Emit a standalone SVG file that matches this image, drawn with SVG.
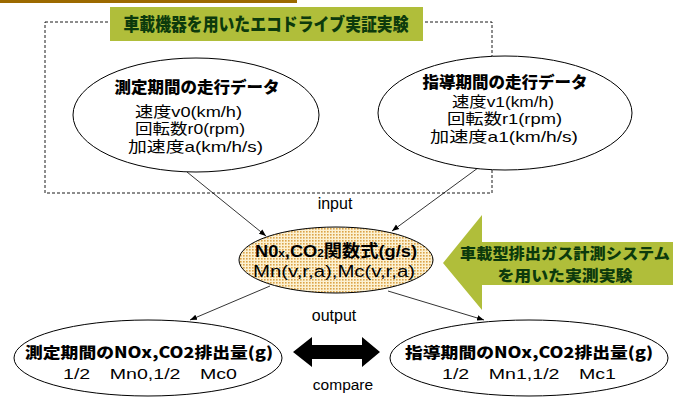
<svg xmlns="http://www.w3.org/2000/svg" width="686" height="397" viewBox="0 0 686 397">
<defs>
<style>
.jp{font-family:"Noto Sans CJK JP","Liberation Sans",sans-serif;}
.lat{font-family:"Liberation Sans","Noto Sans CJK JP",sans-serif;}
.b{font-weight:900;}
.ell{fill:#fff;stroke:#000;stroke-width:1;}
.con{stroke:#000;stroke-width:0.8;fill:none;}
.green{fill:#b0be3a;}
.gtxt{fill:#0c3a0c;font-weight:900;}
</style>
<pattern id="dots" width="3" height="3" patternUnits="userSpaceOnUse">
<rect width="3" height="3" fill="#fcf1d2"/>
<rect width="1.6" height="1.6" fill="#dca448"/>
</pattern>
<marker id="ah" viewBox="0 0 10 10" refX="10" refY="5" markerWidth="7" markerHeight="7" orient="auto" markerUnits="userSpaceOnUse">
<path d="M0,1 L10,5 L0,9 z" fill="#000"/>
</marker>
</defs>
<rect x="0" y="0" width="297" height="3" fill="#9c6a00"/>
<rect id="frame" x="45" y="22" width="447" height="171" fill="none" stroke="#000" stroke-width="0.9" stroke-dasharray="3,2"/>
<g id="title">
<rect x="110" y="7" width="313" height="34" class="green"/>
<text x="266" y="31" text-anchor="middle" class="jp gtxt" font-size="18" textLength="285" lengthAdjust="spacingAndGlyphs">車載機器を用いたエコドライブ実証実験</text>
</g>
<g id="connectors">
<line x1="187" y1="172" x2="266" y2="236" class="con" marker-end="url(#ah)"/>
<line x1="482" y1="165" x2="392" y2="231" class="con" marker-end="url(#ah)"/>
<line x1="270" y1="286" x2="190" y2="320" class="con" marker-end="url(#ah)"/>
<line x1="388" y1="291" x2="484" y2="320" class="con" marker-end="url(#ah)"/>
<polygon id="compare-arrow" points="293,352 312,337 312,345 362,345 362,337 380,352 362,367 362,359 312,359 312,367" fill="#000"/>
</g>
<text x="335" y="209" text-anchor="middle" class="lat" font-size="16">input</text>
<text x="334" y="321" text-anchor="middle" class="lat" font-size="16">output</text>
<text x="343" y="390" text-anchor="middle" class="lat" font-size="15.5">compare</text>
<g id="measure-data">
<ellipse cx="196" cy="115" rx="123" ry="57" class="ell"/>
<text x="197" y="93" text-anchor="middle" class="jp b" font-size="16" textLength="165" lengthAdjust="spacingAndGlyphs">測定期間の走行データ</text>
<text x="135" y="117" class="lat" font-size="15" textLength="107" lengthAdjust="spacingAndGlyphs">速度v0(km/h)</text>
<text x="135" y="134" class="lat" font-size="15" textLength="110" lengthAdjust="spacingAndGlyphs">回転数r0(rpm)</text>
<text x="128" y="152" class="lat" font-size="15" textLength="135" lengthAdjust="spacingAndGlyphs">加速度a(km/h/s)</text>
</g>
<g id="guide-data">
<ellipse cx="505" cy="113" rx="127" ry="57" class="ell"/>
<text x="505" y="88" text-anchor="middle" class="jp b" font-size="16" textLength="165" lengthAdjust="spacingAndGlyphs">指導期間の走行データ</text>
<text x="452" y="107" class="lat" font-size="15" textLength="102" lengthAdjust="spacingAndGlyphs">速度v1(km/h)</text>
<text x="447" y="124" class="lat" font-size="15" textLength="115" lengthAdjust="spacingAndGlyphs">回転数r1(rpm)</text>
<text x="430" y="142" class="lat" font-size="15" textLength="148" lengthAdjust="spacingAndGlyphs">加速度a1(km/h/s)</text>
</g>
<g id="function">
<ellipse cx="336" cy="260" rx="97" ry="33" fill="url(#dots)" stroke="#000" stroke-width="1"/>
<text x="255" y="257" class="lat" font-weight="bold" font-size="17" textLength="162" lengthAdjust="spacingAndGlyphs">N0<tspan font-size="11">x</tspan>,CO<tspan font-size="11">2</tspan>関数式(g/s)</text>
<text x="253" y="277" class="lat" font-size="16" textLength="162" lengthAdjust="spacingAndGlyphs">Mn(v,r,a),Mc(v,r,a)</text>
</g>
<g id="onboard">
<polygon points="443,263 482,215 482,242 673,242 673,285 482,285 482,310" class="green"/>
<text x="565" y="259" text-anchor="middle" class="jp gtxt" font-size="15" textLength="210" lengthAdjust="spacingAndGlyphs">車載型排出ガス計測システム</text>
<text x="565" y="281" text-anchor="middle" class="jp gtxt" font-size="15" textLength="135" lengthAdjust="spacingAndGlyphs">を用いた実測実験</text>
</g>
<g id="measure-emission">
<ellipse cx="148" cy="358" rx="134" ry="38" class="ell"/>
<text x="149" y="358" text-anchor="middle" class="jp b" font-size="15" textLength="248" lengthAdjust="spacingAndGlyphs">測定期間のNOx,CO2排出量(g)</text>
<text x="150" y="379" text-anchor="middle" class="lat" font-size="15" textLength="174" lengthAdjust="spacingAndGlyphs">1/2　Mn0,1/2　Mc0</text>
</g>
<g id="guide-emission">
<ellipse cx="529" cy="358" rx="139" ry="38" class="ell"/>
<text x="529" y="358" text-anchor="middle" class="jp b" font-size="15" textLength="248" lengthAdjust="spacingAndGlyphs">指導期間のNOx,CO2排出量(g)</text>
<text x="529" y="379" text-anchor="middle" class="lat" font-size="15" textLength="174" lengthAdjust="spacingAndGlyphs">1/2　Mn1,1/2　Mc1</text>
</g>
</svg>
